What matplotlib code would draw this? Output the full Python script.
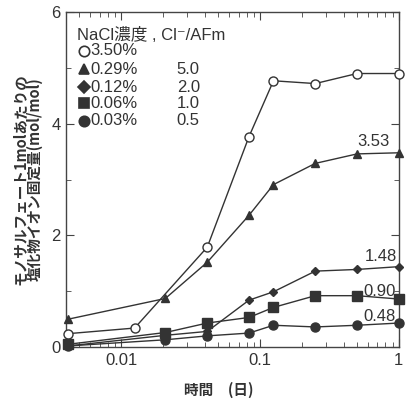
import matplotlib.pyplot as plt
import numpy as np
from matplotlib.ticker import LogLocator, FixedLocator, NullFormatter

plt.rcParams['font.family'] = ['Liberation Sans', 'Noto Sans CJK JP', 'DejaVu Sans']

# time (day)
t_open = [0.00417, 0.0125, 0.0417, 0.0833, 0.125, 0.25, 0.5, 1.0]
t_main = [0.00417, 0.0208, 0.0417, 0.0833, 0.125, 0.25, 0.5, 1.0]

# bound chloride per mol monosulfate (mol/mol)
y_350 = [0.24, 0.34, 1.79, 3.77, 4.77, 4.72, 4.90, 4.90]
y_029 = [0.50, 0.87, 1.52, 2.36, 2.91, 3.29, 3.46, 3.48]
y_012 = [0.02, 0.21, 0.28, 0.84, 0.99, 1.36, 1.39, 1.44]
y_006 = [0.05, 0.26, 0.43, 0.53, 0.71, 0.92, 0.92, 0.86]
y_003 = [0.02, 0.13, 0.20, 0.25, 0.39, 0.36, 0.39, 0.43]

legend_conc = ["3.50%", "0.29%", "0.12%", "0.06%", "0.03%"]
legend_ratio = ["", "5.0", "2.0", "1.0", "0.5"]
end_labels = ["3.53", "1.48", "0.90", "0.48"]
end_label_y = [3.68, 1.63, 1.00, 0.54]
end_label_x = [0.973, 0.993, 0.99, 0.99]

fig = plt.figure(figsize=(4.07, 4.04), dpi=100)
ax = fig.add_axes([0.162, 0.141, 0.818, 0.829])

lc = "#333333"
series = [
    (t_open, y_350, "o", "white"),
    (t_main, y_029, "^", lc),
    (t_main, y_012, "D", lc),
    (t_main, y_006, "s", lc),
    (t_main, y_003, "o", lc),
]
ms = {"o": 6.5, "^": 6, "D": 4.5, "s": 6.5}
for t, y, m, fc in series:
    ax.plot(t, y, color=lc, lw=1.0, marker=m, ms=ms[m], mfc=fc, mec=lc,
            mew=1.0, clip_on=False, zorder=3)

fs = 12
ax.set_xscale("log")
ax.set_xlim(0.004, 1.0)
ax.set_ylim(0, 6)
ax.xaxis.set_major_locator(FixedLocator([0.01, 0.1, 1]))
ax.set_xticklabels(["0.01", "0.1", "1"])
ax.xaxis.set_minor_locator(LogLocator(base=10, subs=np.arange(2, 10)))
ax.xaxis.set_minor_formatter(NullFormatter())
ax.set_yticks([0, 2, 4, 6])
ax.set_yticks([1, 3, 5], minor=True)
ax.tick_params(which="both", direction="in", top=True, right=True,
               labelsize=fs, color="#444444", labelcolor="#333333")
ax.tick_params(which="major", length=6, pad=4)
ax.tick_params(which="minor", length=3.5)
for s in ax.spines.values():
    s.set_color("#444444")
    s.set_linewidth(1.0)

# legend drawn as text in axes
ax.text(0.032, 0.931, "NaCl濃度 , Cl⁻/AFm", transform=ax.transAxes,
        fontsize=fs, color="#333333", va="center")
marks = ["o", "^", "D", "s", "o"]
fcs = ["white", lc, lc, lc, lc]
legend_ms = {"o": 7.5, "^": 7.5, "D": 6.5, "s": 7.5}
row_y = [0.884, 0.830, 0.776, 0.728, 0.675]
for m, fc, conc, ratio, yy in zip(marks, fcs, legend_conc, legend_ratio, row_y):
    ax.plot([0.054], [yy], transform=ax.transAxes, marker=m,
            ms=legend_ms[m], mfc=fc, mec=lc, mew=1.2, ls="none")
    ax.text(0.072, yy, conc, transform=ax.transAxes, fontsize=fs,
            color="#333333", va="center")
    ax.text(0.333, yy, ratio, transform=ax.transAxes, fontsize=fs,
            color="#333333", va="center")

for lab, xv, yv in zip(end_labels, end_label_x, end_label_y):
    ax.text(xv, yv, lab, fontsize=fs, color="#333333", ha="right",
            va="center", transform=ax.get_yaxis_transform())

ax.set_xlabel("時間　(日)", fontsize=10.5, fontweight="bold",
              family=['Noto Sans CJK JP'], color="#333333")
ax.xaxis.set_label_coords(0.458, -0.105)

# two-line y label, placed line by line
ylab_lines = ["モノサルフェート1molあたりの", "塩化物イオン固定量(mol/mol)"]
for xf, txt in zip([20 / 407, 35 / 407], ylab_lines):
    fig.text(xf, 1 - 179 / 404, txt, rotation=90, ha="center", va="center",
             fontsize=10.5, fontweight="bold", family=['Noto Sans CJK JP'],
             color="#333333")

fig.savefig("out.png", dpi=100)
